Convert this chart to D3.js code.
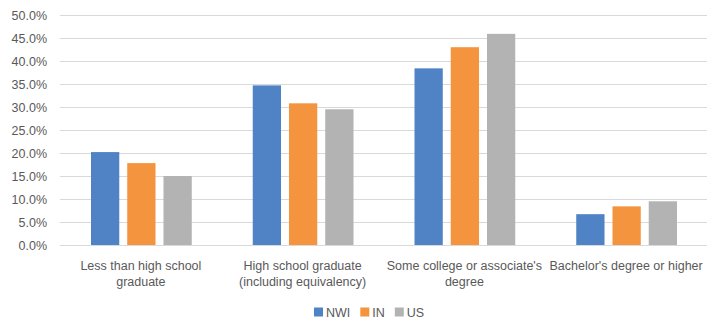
<!DOCTYPE html>
<html>
<head>
<meta charset="utf-8">
<script src="https://cdn.jsdelivr.net/npm/d3@7"></script>
<style>
  html, body { margin: 0; padding: 0; background: #fff; }
  svg { display: block; font-family: "Liberation Sans", Arial, sans-serif; }
</style>
</head>
<body>
<svg id="chart" width="712" height="322"></svg>
<script>
// Educational attainment shares by area
const categories = [
  "Less than high school\ngraduate",
  "High school graduate\n(including equivalency)",
  "Some college or associate's\ndegree",
  "Bachelor's degree or higher"
];
const seriesNames = ["NWI", "IN", "US"];
const nwiValues = [20.2, 34.7, 38.4, 6.7];
const inValues  = [17.8, 30.8, 43.0, 8.4];
const usValues  = [15.0, 29.5, 45.9, 9.5];
const yTicks = [0, 5, 10, 15, 20, 25, 30, 35, 40, 45, 50];
const colors = ["#5083C5", "#F4943F", "#B3B3B3"];

const seriesValues = [nwiValues, inValues, usValues];

const svg = d3.select("#chart");
const margin = { left: 60, right: 5, top: 15, bottom: 77 };
const W = 712, H = 322;
const plotW = W - margin.left - margin.right;
const plotH = H - margin.top - margin.bottom;

const g = svg.append("g").attr("transform", `translate(${margin.left},${margin.top})`);

const x0 = d3.scaleBand().domain(d3.range(categories.length)).range([0, plotW]);
const x1 = d3.scaleBand().domain(seriesNames).range([31, x0.bandwidth() - 30]).paddingInner(0.22);
const y = d3.scaleLinear().domain([0, 50]).range([plotH, 0]);

// gridlines
g.append("g")
  .selectAll("line")
  .data(yTicks)
  .join("line")
  .attr("x1", 0).attr("x2", plotW)
  .attr("y1", d => Math.round(y(d)) + 0.5).attr("y2", d => Math.round(y(d)) + 0.5)
  .attr("stroke", "#D9D9D9").attr("stroke-width", 1);

// y axis labels
const yAxis = d3.axisLeft(y).tickValues(yTicks).tickFormat(d => d3.format(".1f")(d) + "%").tickSize(0).tickPadding(13);
const yg = g.append("g").call(yAxis);
yg.select(".domain").remove();
yg.selectAll("text").attr("fill", "#595959").attr("font-size", "12.5px").attr("font-family", "Liberation Sans, Arial, sans-serif");

// bars
const groups = g.append("g")
  .selectAll("g")
  .data(categories.map((c, i) => i))
  .join("g")
  .attr("transform", i => `translate(${x0(i)},0)`);

groups.selectAll("rect")
  .data(i => seriesNames.map((s, k) => ({ s, k, v: seriesValues[k][i] })))
  .join("rect")
  .attr("x", d => x1(d.s))
  .attr("width", x1.bandwidth())
  .attr("y", d => y(d.v))
  .attr("height", d => y(0) - y(d.v))
  .attr("fill", d => colors[d.k]);

// category labels
const xg = g.append("g").attr("transform", `translate(0,${plotH})`);
categories.forEach((c, i) => {
  const t = xg.append("text")
    .attr("x", x0(i) + x0.bandwidth() / 2)
    .attr("y", 25)
    .attr("text-anchor", "middle")
    .attr("fill", "#595959")
    .attr("font-size", "12.5px");
  c.split("\n").forEach((line, j) => {
    t.append("tspan").attr("x", x0(i) + x0.bandwidth() / 2).attr("dy", j === 0 ? 0 : 16).text(line);
  });
});

// legend
const legendItems = seriesNames.map((s, k) => ({ s, k }));
const legend = svg.append("g").attr("transform", "translate(0,312)");
let lx = 314;
legendItems.forEach(d => {
  const item = legend.append("g").attr("transform", `translate(${lx},0)`);
  item.append("rect").attr("x", 0).attr("y", -4.5).attr("width", 9).attr("height", 9).attr("fill", colors[d.k]);
  const t = item.append("text").attr("x", 12).attr("y", 4.5)
    .attr("fill", "#595959").attr("font-size", "12.5px").text(d.s);
  lx += 12 + t.node().getComputedTextLength() + 10;
});
</script>
</body>
</html>
